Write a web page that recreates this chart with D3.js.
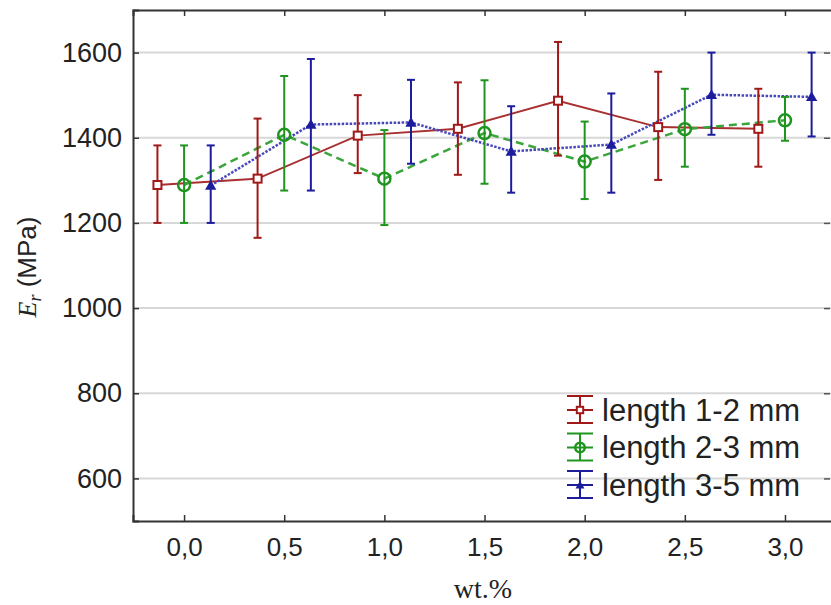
<!DOCTYPE html>
<html>
<head>
<meta charset="utf-8">
<script src="https://cdn.jsdelivr.net/npm/d3@7"></script>
<style>
body { margin: 0; background: #fff; }
text { font-family: "Liberation Sans", Arial, sans-serif; fill: #222; }
</style>
</head>
<body>
<div id="chart"></div>
<script>
// data
const wt = [0, 0.5, 1.0, 1.5, 2.0, 2.5, 3.0];
const xTicks = [0, 0.5, 1.0, 1.5, 2.0, 2.5, 3.0];
const yTicks = [600, 800, 1000, 1200, 1400, 1600];
const seriesNames = ["length 1-2 mm", "length 2-3 mm", "length 3-5 mm"];

const mean12 = [1289, 1304, 1405, 1421, 1487, 1425, 1421];
const hi12   = [1382, 1445, 1500, 1530, 1625, 1555, 1515];
const lo12   = [1200, 1165, 1317, 1313, 1358, 1301, 1332];

const mean23 = [1289, 1407, 1304, 1411, 1344, 1420, 1441];
const hi23   = [1382, 1545, 1418, 1535, 1438, 1515, 1496];
const lo23   = [1200, 1276, 1195, 1292, 1256, 1332, 1393];

const mean35 = [1288, 1431, 1436, 1368, 1384, 1501, 1496];
const hi35   = [1382, 1585, 1536, 1474, 1504, 1600, 1600];
const lo35   = [1200, 1276, 1339, 1271, 1271, 1407, 1403];

const W = 831, H = 605;
const svg = d3.select("#chart").append("svg")
    .attr("width", W).attr("height", H);

const pLeft = 133, pTop = 10, pRight = 836, pBottom = 521;
const x = d3.scaleLinear().domain([-0.255, 3.245]).range([pLeft, pLeft + (3.5 * 200.3)]);
const y = d3.scaleLinear().domain([500, 1700]).range([pBottom, pTop]);

// gridlines
svg.append("g").selectAll("line")
    .data(yTicks).enter().append("line")
    .attr("x1", pLeft).attr("x2", pRight)
    .attr("y1", d => y(d)).attr("y2", d => y(d))
    .attr("stroke", "#d8d8d8").attr("stroke-width", 2);

// axes, ticks inside
const fmt = d => d3.format(".1f")(d).replace(".", ",");
const xAxis = svg.append("g").attr("transform", `translate(0,${pBottom})`)
    .call(d3.axisBottom(x).tickValues(xTicks).tickSize(-6).tickPadding(17).tickFormat(fmt));
const xTop = svg.append("g").attr("transform", `translate(0,${pTop})`)
    .call(d3.axisTop(x).tickValues(xTicks).tickSize(-6).tickFormat(""));
const yAxis = svg.append("g").attr("transform", `translate(${pLeft},0)`)
    .call(d3.axisLeft(y).tickValues(yTicks).tickSize(-6).tickPadding(11).tickFormat(d3.format("d")));
const yRight = svg.append("g").attr("transform", `translate(${pRight - 6},0)`)
    .call(d3.axisRight(y).tickValues(yTicks).tickSize(-6).tickFormat(""));
yRight.select(".domain").remove();

[xAxis, xTop, yAxis].forEach(a => {
    a.select(".domain").attr("stroke", "#333").attr("stroke-width", 2);
    a.selectAll(".tick line").attr("stroke", "#333").attr("stroke-width", 1.5);
});
yRight.selectAll(".tick line").attr("stroke", "#555").attr("stroke-width", 1.5);
xAxis.selectAll("text").style("font-size", "26px").attr("fill", "#222");
yAxis.selectAll("text").style("font-size", "27px").attr("fill", "#222");

// axis titles
svg.append("text")
    .attr("x", 483).attr("y", 598)
    .attr("text-anchor", "middle")
    .style("font-family", "'Liberation Serif', 'Times New Roman', serif")
    .style("font-size", "28px")
    .text("wt.%");

const yt = svg.append("text")
    .attr("transform", "translate(36,267) rotate(-90)")
    .attr("text-anchor", "middle")
    .style("font-size", "26px");
yt.append("tspan").style("font-family", "'Liberation Serif', serif").style("font-style", "italic").text("E");
yt.append("tspan").style("font-family", "'Liberation Serif', serif").style("font-style", "italic")
    .style("font-size", "18px").attr("dy", 5).text("r");
yt.append("tspan").attr("dy", -5).text(" (MPa)");

// series
const series = [
    {name: seriesNames[0], mean: mean12, hi: hi12, lo: lo12, off: -0.133,
     color: "#a01818", line: "#a83030", dash: null, width: 2, marker: "square"},
    {name: seriesNames[1], mean: mean23, hi: hi23, lo: lo23, off: 0,
     color: "#1f951f", line: "#3aa53a", dash: "8,5", width: 2.5, marker: "circle"},
    {name: seriesNames[2], mean: mean35, hi: hi35, lo: lo35, off: 0.133,
     color: "#1c1c9c", line: "#4848bc", dash: "2.5,1.5", width: 2.5, marker: "triangle"}
];

const line = d3.line().x(d => x(d.x)).y(d => y(d.v));

series.forEach(s => {
    s.pts = wt.map((w, i) => ({x: w + s.off, v: s.mean[i], hi: s.hi[i], lo: s.lo[i]}));
});

series.forEach(s => {
    svg.append("path").datum(s.pts)
        .attr("d", line)
        .attr("fill", "none")
        .attr("stroke", s.line)
        .attr("stroke-width", s.width)
        .attr("stroke-dasharray", s.dash);
});

function drawMarker(g, s, cx, cy, k) {
    k = k || 1;
    if (s.marker === "square") {
        g.append("rect").attr("x", cx - 4 * k).attr("y", cy - 4 * k).attr("width", 8 * k).attr("height", 8 * k)
            .attr("fill", "#fff").attr("stroke", s.color).attr("stroke-width", 2);
    } else if (s.marker === "circle") {
        g.append("circle").attr("cx", cx).attr("cy", cy).attr("r", 6 * k)
            .attr("fill", "none").attr("stroke", s.color).attr("stroke-width", 2.5);
    } else {
        g.append("path").attr("d", d3.symbol(d3.symbolTriangle, 55 * k * k)())
            .attr("transform", `translate(${cx},${cy + 1})`)
            .attr("fill", s.color);
    }
}

series.forEach(s => {
    const g = svg.append("g");
    s.pts.forEach(p => {
        const cx = x(p.x);
        g.append("line").attr("x1", cx).attr("x2", cx).attr("y1", y(p.hi)).attr("y2", y(p.lo))
            .attr("stroke", s.color).attr("stroke-width", 2);
        [p.hi, p.lo].forEach(v => {
            g.append("line").attr("x1", cx - 4).attr("x2", cx + 4).attr("y1", y(v)).attr("y2", y(v))
                .attr("stroke", s.color).attr("stroke-width", 2);
        });
        drawMarker(g, s, cx, y(p.v));
    });
});

// legend
const leg = svg.append("g");
series.forEach((s, i) => {
    const cy = 410 + i * 37.5, cx = 580;
    const g = leg.append("g");
    g.append("line").attr("x1", cx).attr("x2", cx).attr("y1", cy - 14).attr("y2", cy + 13)
        .attr("stroke", s.color).attr("stroke-width", 2);
    [cy - 14, cy, cy + 13].forEach(v => {
        g.append("line").attr("x1", cx - 13).attr("x2", cx + 13).attr("y1", v).attr("y2", v)
            .attr("stroke", s.color).attr("stroke-width", 2);
    });
    drawMarker(g, s, cx, cy, 0.8);
    g.append("text").attr("x", 602).attr("y", cy)
        .attr("dominant-baseline", "central")
        .style("font-size", "31px")
        .text(s.name);
});
</script>
</body>
</html>
